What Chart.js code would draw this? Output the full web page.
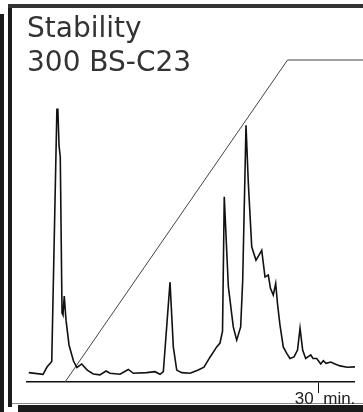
<!DOCTYPE html>
<html><head><meta charset="utf-8">
<script src="https://cdn.jsdelivr.net/npm/chart.js@4.4.1/dist/chart.umd.min.js"></script>
<style>html,body{margin:0;padding:0;background:#fff;overflow:hidden}canvas{display:block}</style>
</head><body>
<canvas id="c" width="363" height="412"></canvas>
<script>
// ---- data ----
const titleLines = ['Stability', '300 BS-C23'];
const timeTicks = [30];
const timeTickLabel = '30  min.';
const signalTimes = [0.18, 1.65, 2.06, 2.55, 3.08, 3.18, 3.30, 3.40, 3.43, 3.61, 3.71, 3.84, 4.02, 4.33, 4.79, 5.15, 5.64, 6.21, 6.83, 7.52, 8.14, 8.55, 9.58, 10.44, 10.96, 12.34, 13.19, 13.71, 14.05, 14.74, 15.08, 15.43, 15.94, 16.80, 17.65, 18.24, 18.86, 19.55, 19.89, 20.15, 20.33, 20.75, 21.26, 21.61, 22.02, 22.23, 22.57, 22.81, 23.16, 23.60, 24.19, 24.53, 24.87, 25.09, 25.38, 25.63, 25.82, 26.07, 26.41, 26.77, 27.10, 27.52, 27.88, 28.14, 28.41, 28.72, 29.24, 29.48, 29.86, 30.27, 30.54, 30.82, 31.30, 31.74, 32.26, 33.01, 33.80];
const signalValues = [2.9, 2.4, 4.65, 6.4, 84.7, 84.7, 73.5, 73.5, 69.8, 21.4, 20.8, 26.7, 19.2, 11.5, 6.5, 4.5, 5.6, 3.7, 2.5, 2.2, 3.4, 2.7, 2.4, 3.9, 2.7, 2.9, 3.2, 2.4, 3.2, 31.0, 10.9, 3.7, 2.9, 2.7, 3.7, 4.6, 7.7, 10.9, 12.1, 15.8, 57.5, 29.6, 17.1, 13.0, 17.1, 31.6, 79.7, 61.7, 42.0, 37.8, 40.9, 32.6, 33.2, 29.1, 27.0, 30.6, 24.2, 17.7, 10.9, 8.9, 7.3, 7.8, 9.9, 16.7, 9.9, 7.3, 8.4, 7.3, 7.3, 5.6, 6.6, 5.8, 6.2, 5.6, 5.0, 4.6, 4.7];
const gradientTimes = [3.92, 26.85, 34.63];
const gradientValues = [0, 100, 100];

const toPoints = (xs, ys) => xs.map((x, i) => ({x: x, y: ys[i]}));

const framePlugin = {
  id: 'frame',
  beforeDraw(chart) {
    const ctx = chart.ctx;
    ctx.save();
    ctx.fillStyle = '#fff';
    ctx.fillRect(0, 0, chart.width, chart.height);
    ctx.fillStyle = '#1a1a1a';
    ctx.fillRect(0, 14, 4, 398);
    ctx.fillRect(8, 4, 4, 403);
    ctx.fillStyle = '#333';
    ctx.fillRect(8, 4, 355, 4);
    ctx.fillStyle = '#888';
    ctx.fillRect(12, 403, 351, 1);
    ctx.fillStyle = '#1a1a1a';
    ctx.fillRect(18, 405, 345, 7);
    ctx.restore();
  }
};

const titleFamily = "'DejaVu Sans', sans-serif";
const tickFamily = "'Liberation Sans', Arial, sans-serif";

new Chart(document.getElementById('c'), {
  type: 'line',
  data: {
    datasets: [
      {
        data: toPoints(signalTimes, signalValues),
        borderColor: '#111',
        borderWidth: 1.6,
        pointRadius: 0,
        tension: 0,
        borderJoinStyle: 'miter',
        clip: false
      },
      {
        data: toPoints(gradientTimes, gradientValues),
        borderColor: '#444',
        borderWidth: 1,
        pointRadius: 0,
        tension: 0,
        clip: false
      }
    ]
  },
  options: {
    responsive: false,
    animation: false,
    devicePixelRatio: 1,
    layout: {padding: {left: 27, right: 9, top: 0, bottom: 5.8}},
    plugins: {
      legend: {display: false},
      tooltip: {enabled: false},
      title: {
        display: true,
        text: titleLines,
        align: 'start',
        color: '#333',
        font: {family: titleFamily, size: 28, weight: 'normal', lineHeight: 34 / 28},
        padding: {top: 13, bottom: -21}
      }
    },
    scales: {
      x: {
        type: 'linear',
        min: 0,
        max: 33.7,
        afterBuildTicks: (axis) => { axis.ticks = timeTicks.map(v => ({value: v})); },
        grid: {display: true, drawOnChartArea: false, drawTicks: true, tickLength: 11, color: '#111', lineWidth: 1},
        border: {display: true, color: '#111', width: 1.5},
        ticks: {
          callback: () => timeTickLabel,
          color: '#222',
          padding: -3.6,
          labelOffset: 7,
          maxRotation: 0,
          autoSkip: false,
          font: {family: tickFamily, size: 17, lineHeight: 1.2}
        }
      },
      y: {
        display: false,
        min: 0,
        max: 100
      }
    }
  },
  plugins: [framePlugin]
});
</script>
</body></html>
